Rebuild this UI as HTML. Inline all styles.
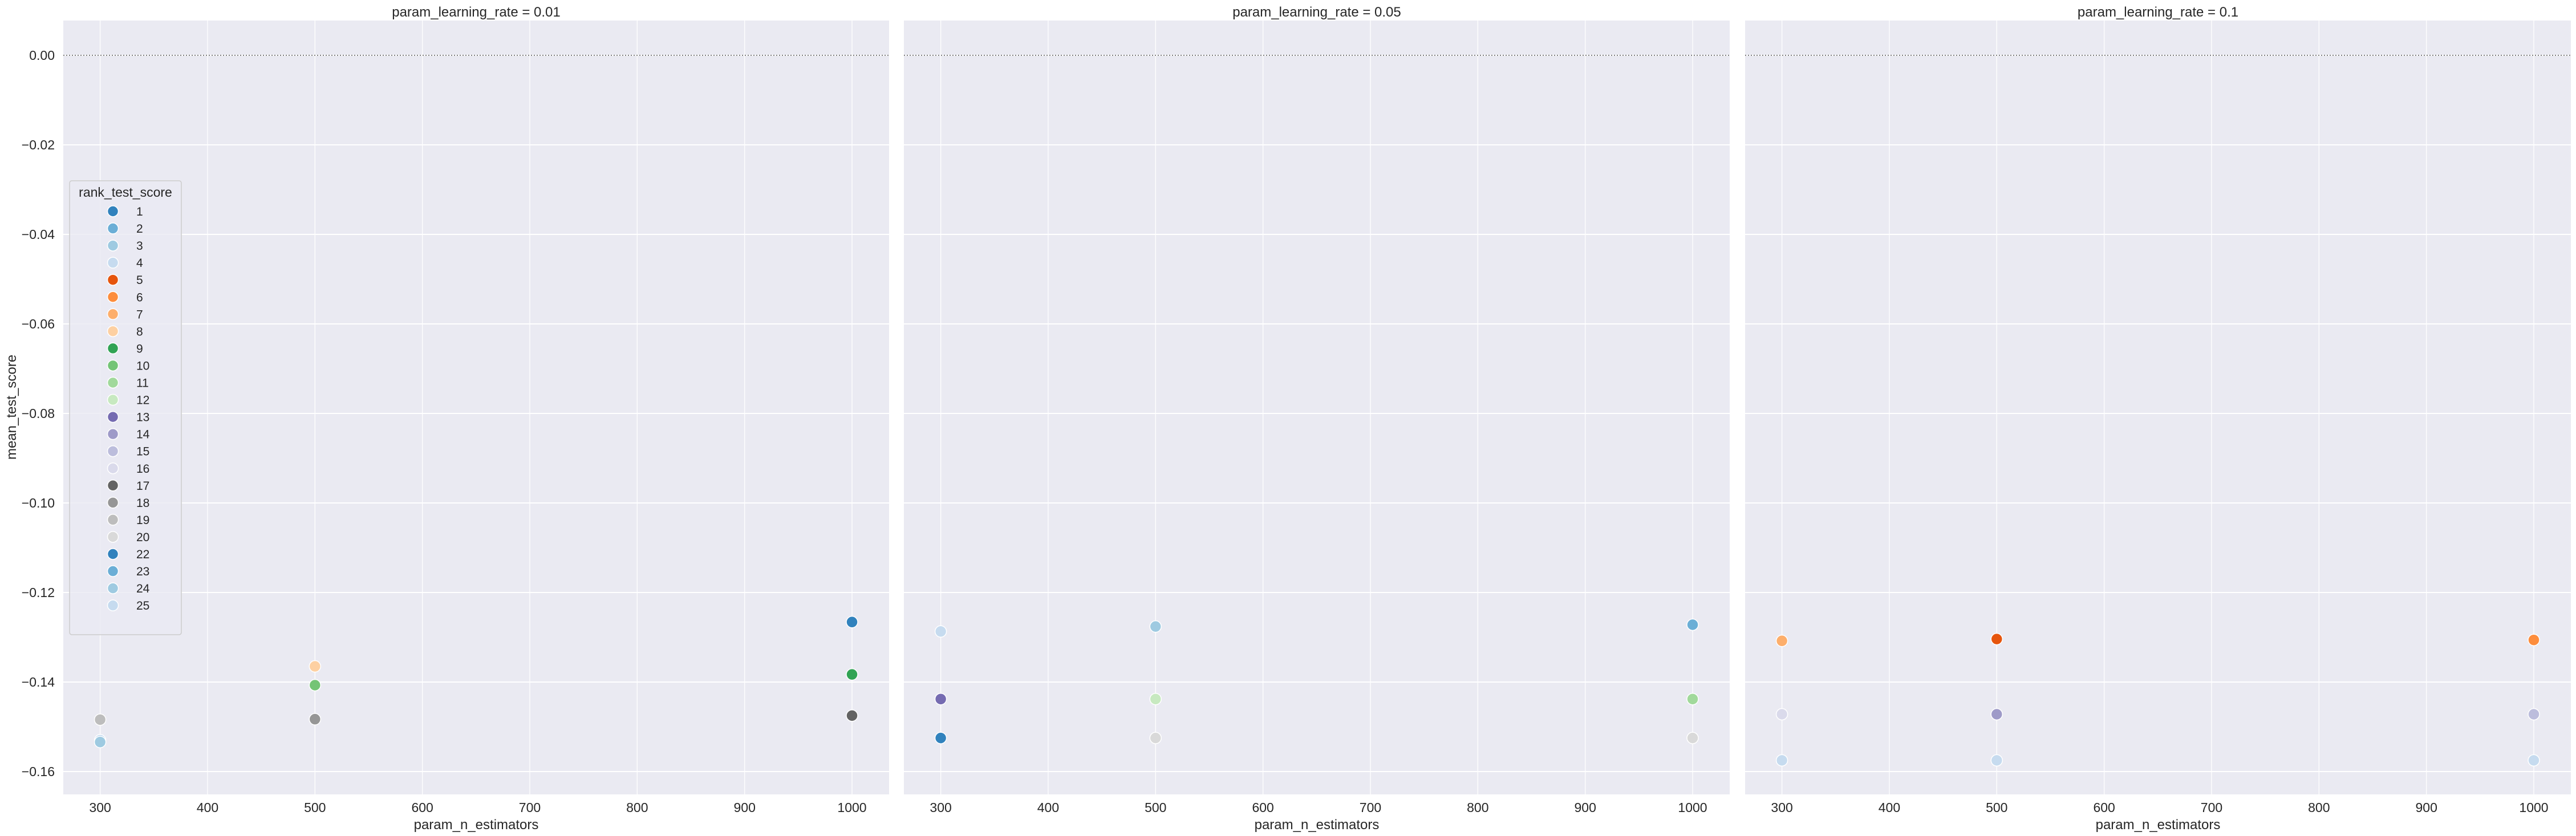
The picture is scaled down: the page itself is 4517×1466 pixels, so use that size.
<!DOCTYPE html>
<html><head><meta charset="utf-8">
<style>
html,body{margin:0;padding:0;background:#fff;}
svg{display:block;font-family:"Liberation Sans",Arial,sans-serif;}
</style></head>
<body>
<svg id="chart" width="4517" height="1466" viewBox="0 0 4517 1466" xmlns="http://www.w3.org/2000/svg"></svg>
<script>
const panelTitles = ["param_learning_rate = 0.01","param_learning_rate = 0.05","param_learning_rate = 0.1"];
const xTicks = [300,400,500,600,700,800,900,1000];
const yTicks = [0,-0.02,-0.04,-0.06,-0.08,-0.10,-0.12,-0.14,-0.16];
const yTickLabels = ["0.00","\u22120.02","\u22120.04","\u22120.06","\u22120.08","\u22120.10","\u22120.12","\u22120.14","\u22120.16"];
const legendRanks = [1,2,3,4,5,6,7,8,9,10,11,12,13,14,15,16,17,18,19,20,22,23,24,25];
const rankColors = {1:"#3182bd",2:"#6baed6",3:"#9ecae1",4:"#c6dbef",5:"#e6550d",6:"#fd8d3c",7:"#fdae6b",8:"#fdd0a2",9:"#31a354",10:"#74c476",11:"#a1d99b",12:"#c7e9c0",13:"#756bb1",14:"#9e9ac8",15:"#bcbddc",16:"#dadaeb",17:"#636363",18:"#969696",19:"#bdbdbd",20:"#d9d9d9",22:"#3182bd",23:"#6baed6",24:"#9ecae1",25:"#c6dbef"};
const p1Est = [1000,500,1000,500,1000,500,300,300,300];
const p1Score = [-0.1266,-0.1365,-0.1383,-0.1407,-0.1475,-0.1483,-0.1484,-0.1530,-0.1534];
const p1Rank = [1,8,9,10,17,18,19,25,24];
const p2Est = [300,500,1000,300,500,1000,300,500,1000];
const p2Score = [-0.1287,-0.1276,-0.1272,-0.1438,-0.1438,-0.1438,-0.1525,-0.1525,-0.1525];
const p2Rank = [4,3,2,13,12,11,22,20,20];
const p3Est = [300,500,1000,300,500,1000,300,500,1000];
const p3Score = [-0.1308,-0.1304,-0.1306,-0.1472,-0.1472,-0.1472,-0.1575,-0.1575,-0.1575];
const p3Rank = [7,5,6,16,14,15,25,25,25];

const NS="http://www.w3.org/2000/svg";
const svg=document.getElementById('chart');
function mk(tag,attrs,parent){const e=document.createElementNS(NS,tag);for(const k in attrs)e.setAttribute(k,attrs[k]);(parent||svg).appendChild(e);return e;}

const panels=[{x0:111,x1:1559},{x0:1585,x1:3033},{x0:3060,x1:4508}];
const plotTop=36,plotBottom=1393;
const xMin=265.7,xMax=1034.5;
const yZeroPx=97,yStepPx=157.0;
function yScale(v){return yZeroPx+(-v)/0.02*yStepPx;}
const panelData=[[p1Est,p1Score,p1Rank],[p2Est,p2Score,p2Rank],[p3Est,p3Score,p3Rank]];

panels.forEach((p,pi)=>{
  const xScale=v=>p.x0+(v-xMin)/(xMax-xMin)*(p.x1-p.x0);
  const g=mk('g',{});
  
  
  const bg=mk('rect',{x:p.x0,y:plotTop,width:p.x1-p.x0,height:plotBottom-plotTop,fill:'#eaeaf2'},g);
  
  
  xTicks.forEach(t=>{
    const x=xScale(t);
    const l=mk('line',{x1:x,x2:x,y1:plotTop,y2:plotBottom,stroke:'#fff','stroke-width':1.3},g);
    
    
    const tx=mk('text',{x:x,y:1424,'text-anchor':'middle','font-size':23,fill:'#262626'},g);
    tx.textContent=t;
    
    
  });
  yTicks.forEach((t,i)=>{
    const y=yScale(t);
    const l=mk('line',{x1:p.x0,x2:p.x1,y1:y,y2:y,stroke:'#fff','stroke-width':2},g);
    
    
    if(pi===0){
      const ty=mk('text',{x:96,y:y+8,'text-anchor':'end','font-size':23,fill:'#262626'},g);
      ty.textContent=yTickLabels[i];
      
      
    }
  });
  const z=mk('line',{x1:p.x0,x2:p.x1,y1:yScale(0),y2:yScale(0),stroke:'#808080','stroke-width':2,'stroke-dasharray':'2,3'},g);
  
  
  const tt=mk('text',{x:(p.x0+p.x1)/2,y:29,'text-anchor':'middle','font-size':24,fill:'#262626'},g);
  tt.textContent=panelTitles[pi];
  
  
  const xl=mk('text',{x:(p.x0+p.x1)/2,y:1454,'text-anchor':'middle','font-size':24,fill:'#262626'},g);
  xl.textContent='param_n_estimators';
  
  
  const [est,sc,rk]=panelData[pi];
  est.forEach((e,i)=>{
    const c=mk('circle',{cx:xScale(e),cy:yScale(sc[i]),r:10,fill:rankColors[rk[i]],stroke:'#fff','stroke-width':1.5},g);
    
    
  });
});

const yl=mk('text',{x:0,y:0,'text-anchor':'middle','font-size':24,fill:'#262626',transform:'translate(28,714) rotate(-90)'});
yl.textContent='mean_test_score';



const lg=mk('g',{});


const lb=mk('rect',{x:122,y:317,width:196,height:796,rx:4,fill:'#eaeaf2','fill-opacity':0.8,stroke:'#cccccc','stroke-width':1.5},lg);


const lt=mk('text',{x:220,y:345,'text-anchor':'middle','font-size':23,fill:'#262626'},lg);
lt.textContent='rank_test_score';


legendRanks.forEach((r,i)=>{
  const y=370.5+i*30.05;
  const c=mk('circle',{cx:198,cy:y,r:9.5,fill:rankColors[r],stroke:'#fff','stroke-width':1.5},lg);
  
  
  const t=mk('text',{x:239,y:y+7.5,'font-size':21,fill:'#262626'},lg);
  t.textContent=r;
  
  
});
</script>
</body></html>
